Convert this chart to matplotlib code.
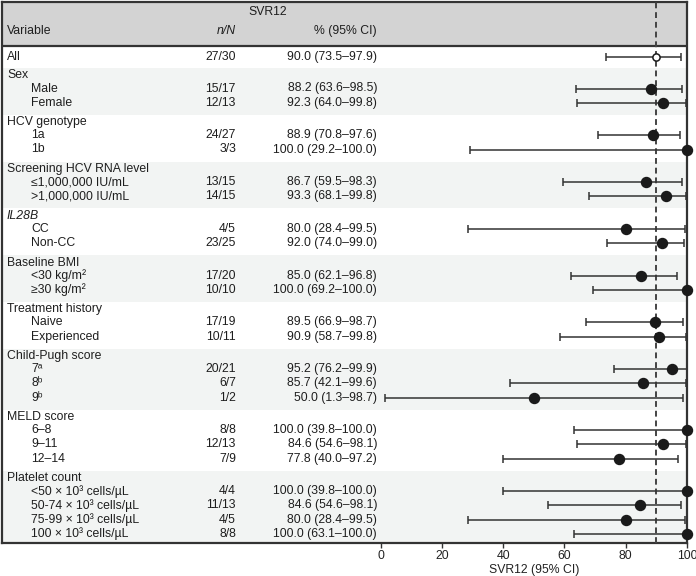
import numpy as np
import matplotlib
matplotlib.use('Agg')
import matplotlib.pyplot as plt

plt.rcParams['font.family'] = ['Liberation Sans', 'DejaVu Sans']

# groups and their sub rows
groups = ['All', 'Sex', 'HCV genotype', 'Screening HCV RNA level', 'IL28B',
          'Baseline BMI', 'Treatment history', 'Child-Pugh score', 'MELD score',
          'Platelet count']
group_sizes = [0, 2, 2, 2, 2, 2, 2, 3, 3, 4]

row_labels = ['All',
              'Male', 'Female',
              '1a', '1b',
              '≤1,000,000 IU/mL', '>1,000,000 IU/mL',
              'CC', 'Non-CC',
              '<30 kg/m²', '≥30 kg/m²',
              'Naive', 'Experienced',
              '7ᵃ', '8ᵇ', '9ᵇ',
              '6–8', '9–11', '12–14',
              '<50 × 10³ cells/µL', '50-74 × 10³ cells/µL',
              '75-99 × 10³ cells/µL', '100 × 10³ cells/µL']
n_N = ['27/30', '15/17', '12/13', '24/27', '3/3', '13/15', '14/15', '4/5', '23/25',
       '17/20', '10/10', '17/19', '10/11', '20/21', '6/7', '1/2', '8/8', '12/13', '7/9',
       '4/4', '11/13', '4/5', '8/8']
svr = [90.0, 88.2, 92.3, 88.9, 100.0, 86.7, 93.3, 80.0, 92.0, 85.0, 100.0, 89.5, 90.9,
       95.2, 85.7, 50.0, 100.0, 84.6, 77.8, 100.0, 84.6, 80.0, 100.0]
ci_lo = [73.5, 63.6, 64.0, 70.8, 29.2, 59.5, 68.1, 28.4, 74.0, 62.1, 69.2, 66.9, 58.7,
         76.2, 42.1, 1.3, 39.8, 54.6, 40.0, 39.8, 54.6, 28.4, 63.1]
ci_hi = [97.9, 98.5, 99.8, 97.6, 100.0, 98.3, 99.8, 99.5, 99.0, 96.8, 100.0, 98.7, 99.8,
         99.9, 99.6, 98.7, 100.0, 98.1, 97.2, 100.0, 98.1, 99.5, 100.0]

# marks as drawn in the figure (MELD 6-8 and 9-11 are plotted differently from the text)
plot_pt = [90.0, 88.2, 92.3, 88.9, 100.0, 86.7, 93.3, 80.0, 92.0, 85.0, 100.0, 89.5, 90.9,
           95.2, 85.7, 50.0, 100.0, 92.3, 77.8, 100.0, 84.6, 80.0, 100.0]
plot_lo = [73.5, 63.6, 64.0, 70.8, 29.2, 59.5, 68.1, 28.4, 74.0, 62.1, 69.2, 66.9, 58.7,
           76.2, 42.1, 1.3, 63.1, 64.0, 40.0, 39.8, 54.6, 28.4, 63.1]
plot_hi = [97.9, 98.5, 99.8, 97.6, 100.0, 98.3, 99.8, 99.5, 99.0, 96.8, 100.0, 98.7, 99.8,
           99.9, 99.6, 98.7, 100.0, 99.8, 97.2, 100.0, 98.1, 99.5, 100.0]

ref_line = 90
xticks = [0, 20, 40, 60, 80, 100]

W, H = 696, 576
fig = plt.figure(figsize=(W / 100, H / 100), dpi=100)

box_l, box_r, box_t, box_b = 1.5, 687.0, 1.5, 543.0
f_l = 380.7
fs = 8.8

ax = fig.add_axes([box_l / W, 1 - box_b / H, (box_r - box_l) / W, (box_b - box_t) / H])
ax.set_xlim(box_l, box_r)
ax.set_ylim(box_b, box_t)
ax.set_xticks([])
ax.set_yticks([])
for s in ax.spines.values():
    s.set_linewidth(1.6)
    s.set_color('#333333')

axf = fig.add_axes([f_l / W, 1 - box_b / H, (box_r - f_l) / W, (box_b - box_t) / H])
axf.set_xlim(0, 100)
axf.set_ylim(box_b, box_t)
axf.patch.set_visible(False)
for s in axf.spines.values():
    s.set_visible(False)
axf.set_yticks([])
axf.set_xticks(xticks)
axf.tick_params(axis='x', direction='out', length=3.8, width=1, color='#333333',
                labelsize=fs, labelcolor='#222222', pad=1.5)
axf.set_xlabel('SVR12 (95% CI)', fontsize=fs, color='#222222', labelpad=1)

txt = dict(fontsize=fs, color='#1e1e1e', va='center')
x_grp, x_sub, x_n, x_pct = 7, 31, 236, 377

# header
hdr_bot = 45.6
ax.axhspan(box_t, hdr_bot, color='#d3d3d3', zorder=0)
ax.axhline(hdr_bot, color='#333333', lw=1.6)
ax.text(268, 12, 'SVR12', ha='center', **txt)
ax.text(x_grp, 31, 'Variable', ha='left', **txt)
ax.text(x_n, 31, 'n/N', ha='right', style='italic', **txt)
ax.text(x_pct, 31, '% (95% CI)', ha='right', **txt)

# layout of the rows
top_pad, head_gap, step, bot_pad = 7.5, 13.0, 14.2, 12.1
ys = []
y = hdr_bot
band_colors = ['#ffffff', '#f2f4f3']
for gi, (g, n) in enumerate(zip(groups, group_sizes)):
    top = y
    if n == 0:
        bottom = top + 22.4
        ys.append((top + bottom) / 2)
        ax.text(x_grp, ys[-1], g, ha='left', **txt)
    else:
        gy = top + top_pad
        ax.text(x_grp, gy, g, ha='left', style='italic' if g == 'IL28B' else 'normal', **txt)
        for k in range(n):
            ys.append(gy + head_gap + k * step)
        bottom = ys[-1] + bot_pad
        if gi == len(groups) - 1:
            bottom = box_b
    ax.axhspan(top, bottom, color=band_colors[gi % 2], zorder=0, lw=0)
    y = bottom

for i, yy in enumerate(ys):
    if i > 0:
        ax.text(x_sub, yy, row_labels[i], ha='left', **txt)
    ax.text(x_n, yy, n_N[i], ha='right', **txt)
    ax.text(x_pct, yy, f'{svr[i]:.1f} ({ci_lo[i]:.1f}–{ci_hi[i]:.1f})', ha='right', **txt)

# forest
axf.axvline(ref_line, color='#444444', lw=1.4, ls=(0, (3, 2)), zorder=1)
ys = np.array(ys)
pt = np.array(plot_pt)
lo = np.array(plot_lo)
hi = np.array(plot_hi)
axf.errorbar(pt, ys, xerr=[pt - lo, hi - pt], fmt='none', ecolor='#333333',
             elinewidth=1.1, capsize=3, capthick=1.1, clip_on=False, zorder=2)
axf.plot(pt[1:], ys[1:], 'o', color='#1a1a1a', ms=7.2, clip_on=False, zorder=3)
axf.plot(pt[:1], ys[:1], 'o', mfc='white', mec='#1a1a1a', mew=1.1, ms=5.2,
         clip_on=False, zorder=3)

fig.savefig('out.png', dpi=100)
